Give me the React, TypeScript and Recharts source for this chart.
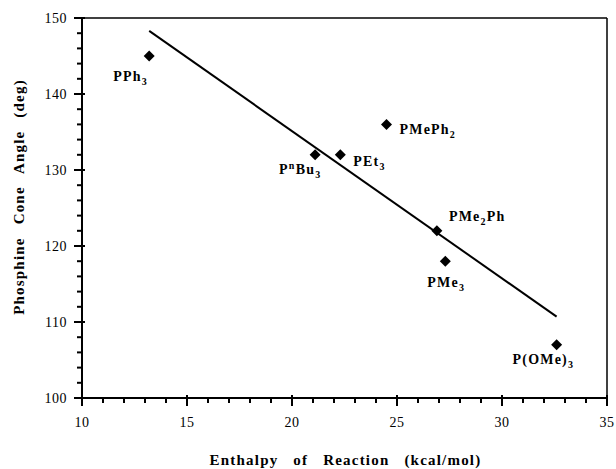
import React from "react";
import {
  ScatterChart,
  Scatter,
  XAxis,
  YAxis,
  ReferenceLine,
  Label,
} from "recharts";

// ligand names (_ = subscript, ^ = superscript, next char only)
const ligands = ["PPh_3", "P^nBu_3", "PEt_3", "PMePh_2", "PMe_2Ph", "PMe_3", "P(OMe)_3"];
const enthalpy = [13.2, 21.1, 22.3, 24.5, 26.9, 27.3, 32.6];
const coneAngle = [145, 132, 132, 136, 122, 118, 107];

// least squares line, end points
const fitX = [13.2, 32.6];
const fitY = [148.3, 110.7];

const xTicks = [10, 11, 12, 13, 14, 15, 16, 17, 18, 19, 20, 21, 22, 23, 24, 25, 26, 27, 28, 29, 30, 31, 32, 33, 34, 35];
const yTicks = [100, 102, 104, 106, 108, 110, 112, 114, 116, 118, 120, 122, 124, 126, 128, 130, 132, 134, 136, 138, 140, 142, 144, 146, 148, 150];

const points = ligands.map((name, i) => ({ name, x: enthalpy[i], y: coneAngle[i] }));
const fitLine = fitX.map((x, i) => ({ x, y: fitY[i] }));

// where each label sits relative to its marker (dx, dy to baseline)
const labelPos: Record<string, [number, number]> = {
  "PPh_3": [-36, 25],
  "P^nBu_3": [-36, 19],
  "PEt_3": [13, 11],
  "PMePh_2": [13, 10],
  "PMe_2Ph": [12, -10],
  "PMe_3": [-18, 26],
  "P(OMe)_3": [-44, 19],
};

const serif = "Liberation Serif";

function richText(markup: string) {
  const out: React.ReactNode[] = [];
  let shift = 0;
  let buf = "";
  let k = 0;
  const flush = () => {
    if (buf) {
      out.push(<tspan key={k++} dy={-shift}>{buf}</tspan>);
      shift = 0;
      buf = "";
    }
  };
  for (let i = 0; i < markup.length; i++) {
    const c = markup[i];
    if ((c === "_" || c === "^") && i + 1 < markup.length) {
      flush();
      const s = c === "_" ? 4 : -5;
      out.push(
        <tspan key={k++} dy={s - shift} fontSize={10}>
          {markup[i + 1]}
        </tspan>
      );
      shift = s;
      i++;
    } else {
      buf += c;
    }
  }
  flush();
  return out;
}

const Marker = (props: any) => {
  const { cx, cy, payload } = props;
  const r = 5.5;
  const [dx, dy] = labelPos[payload.name] || [8, 4];
  return (
    <g>
      <polygon
        points={`${cx},${cy - r} ${cx + r},${cy} ${cx},${cy + r} ${cx - r},${cy}`}
        fill="#000"
      />
      <text
        x={cx + dx}
        y={cy + dy}
        fontFamily={serif}
        fontWeight="bold"
        fontSize={14}
        letterSpacing={1.2}
        fill="#000"
      >
        {richText(payload.name)}
      </text>
    </g>
  );
};

const XTick = (props: any) => {
  const { x, y, payload } = props;
  const major = payload.value % 5 === 0;
  return (
    <g>
      <line x1={x} x2={x} y1={major ? y - 3 : y} y2={y + (major ? 8 : 5)} stroke="#000" strokeWidth={2} />
      {major && (
        <text x={x} y={y + 29} textAnchor="middle" fontFamily={serif} fontSize={14} letterSpacing={0.5} fill="#000">
          {payload.value}
        </text>
      )}
    </g>
  );
};

const YTick = (props: any) => {
  const { x, y, payload } = props;
  const major = payload.value % 10 === 0;
  return (
    <g>
      <line x1={major ? x - 8 : x - 5} x2={major ? x + 3 : x} y1={y} y2={y} stroke="#000" strokeWidth={2} />
      {major && (
        <text x={x - 15} y={y + 5} textAnchor="end" fontFamily={serif} fontSize={14} letterSpacing={0.5} fill="#000">
          {payload.value}
        </text>
      )}
    </g>
  );
};

export default function App() {
  return (
    <div style={{ position: "absolute", left: 0, top: 0, background: "#fff" }}>
      <ScatterChart width={616} height={469} margin={{ top: 18, right: 9, bottom: 0, left: 0 }}>
        <XAxis
          type="number"
          dataKey="x"
          domain={[10, 35]}
          ticks={xTicks}
          interval={0}
          tickSize={0}
          tickMargin={0}
          tickLine={false}
          tick={<XTick />}
          height={71}
          axisLine={{ stroke: "#000", strokeWidth: 2 }}
        >
          <Label
            content={(p: any) => {
              const vb = p.viewBox;
              return (
                <text
                  x={vb.x + vb.width / 2 + 1}
                  y={vb.y + 67}
                  textAnchor="middle"
                  fontFamily={serif}
                  fontWeight="bold"
                  fontSize={15}
                  letterSpacing={1.2}
                  wordSpacing={10}
                  fill="#000"
                >
                  Enthalpy of Reaction (kcal/mol)
                </text>
              );
            }}
          />
        </XAxis>
        <YAxis
          type="number"
          dataKey="y"
          domain={[100, 150]}
          ticks={yTicks}
          interval={0}
          tickSize={0}
          tickMargin={0}
          tickLine={false}
          tick={<YTick />}
          width={82}
          axisLine={{ stroke: "#000", strokeWidth: 2 }}
        >
          <Label
            content={(p: any) => {
              const vb = p.viewBox;
              const cx = vb.x + 24;
              const cy = vb.y + vb.height / 2 - 11;
              return (
                <text
                  x={cx}
                  y={cy}
                  transform={`rotate(-90 ${cx} ${cy})`}
                  textAnchor="middle"
                  fontFamily={serif}
                  fontWeight="bold"
                  fontSize={15}
                  letterSpacing={1.2}
                  wordSpacing={8}
                  fill="#000"
                >
                  Phosphine Cone Angle (deg)
                </text>
              );
            }}
          />
        </YAxis>
        <ReferenceLine y={150} stroke="#000" strokeWidth={1.5} />
        <ReferenceLine x={35} stroke="#000" strokeWidth={1.5} />
        <Scatter
          data={fitLine}
          line={{ stroke: "#000", strokeWidth: 2 }}
          shape={() => <g />}
          isAnimationActive={false}
        />
        <Scatter data={points} shape={<Marker />} isAnimationActive={false} />
      </ScatterChart>
    </div>
  );
}
